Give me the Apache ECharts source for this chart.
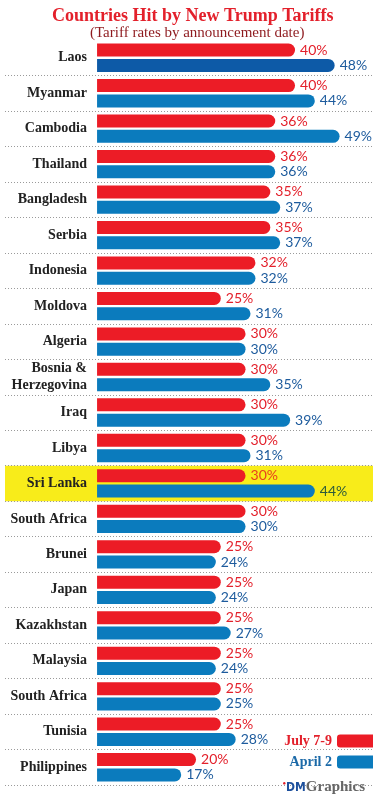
<!DOCTYPE html>
<html><head><meta charset="utf-8">
<script src="https://cdn.jsdelivr.net/npm/echarts@6/dist/echarts.min.js"></script>
<style>html,body{margin:0;padding:0;background:#fff}#c{width:373px;height:800px}</style>
</head><body><div id="c"></div>
<script>
const categories = ['Laos','Myanmar','Cambodia','Thailand','Bangladesh','Serbia','Indonesia','Moldova','Algeria','Bosnia &\nHerzegovina','Iraq','Libya','Sri Lanka','South Africa','Brunei','Japan','Kazakhstan','Malaysia','South Africa','Tunisia','Philippines'];
const july = [40,40,36,36,35,35,32,25,30,30,30,30,30,30,25,25,25,25,25,25,20];
const april = [48,44,49,36,37,37,32,31,30,35,39,31,44,30,24,24,27,24,25,28,17];
const highlight = 'Sri Lanka';
const seriesNames = ['July 7-9','April 2'];

const RED = '#ec1c26', BLUE = '#0b7bbd', DARKBLUE = '#0d5aa7';
const RED_LBL = '#e3202b', BLUE_LBL = '#1d5b9d';
const catFont = 'Liberation Serif';
const numFont = 'Lato';

const hiIdx = categories.indexOf(highlight);
const areaColors = categories.map((c,i)=> i===hiIdx ? '#f8ec1a' : 'rgba(0,0,0,0)');

const redData = july.map((v,i)=> i===hiIdx ? {value:v, label:{color:'#e8401e'}} : v);
const blueData = april.map((v,i)=> {
  if (i===hiIdx) return {value:v, label:{color:'#2b5a3c'}};
  if (i===0) return {value:v, itemStyle:{color:DARKBLUE}};
  return v;
});

const chart = echarts.init(document.getElementById('c'));
chart.setOption({
  animation:false,
  title:[{
    text:'Countries Hit by New Trump Tariffs',
    left:47, top:2,
    textStyle:{fontFamily:catFont, fontWeight:'bold', fontSize:18, color:'#e3202b'}
  },{
    text:'(Tariff rates by announcement date)',
    left:85, top:21,
    textStyle:{fontFamily:catFont, fontWeight:'normal', fontSize:15, color:'#8e1a1e'}
  },{
    text:'{d|●}{m|DM}{g|Graphics}',
    right:3, bottom:0,
    textStyle:{rich:{
      d:{color:'#e3202b', fontSize:6, verticalAlign:'top'},
      m:{color:'#1c4f9c', fontWeight:'bold', fontFamily:'DejaVu Sans Condensed', fontSize:12},
      g:{color:'#666', fontWeight:'bold', fontFamily:catFont, fontSize:15}
    }}
  }],
  legend:[{
    data:[{name:seriesNames[0], textStyle:{color:RED_LBL}}],
    right:-11, top:729, align:'right', icon:'roundRect', itemWidth:42, itemHeight:13,
    textStyle:{fontFamily:catFont, fontWeight:'bold', fontSize:14}
  },{
    data:[{name:seriesNames[1], textStyle:{color:'#1c6aa8'}}],
    right:-11, top:750, align:'right', icon:'roundRect', itemWidth:42, itemHeight:13,
    textStyle:{fontFamily:catFont, fontWeight:'bold', fontSize:14}
  }],
  grid:{left:5, right:0, top:40, bottom:15, containLabel:false},
  xAxis:{type:'value', min:-18.6, max:55.75, show:false},
  yAxis:{
    type:'category', inverse:true, data:categories,
    axisLine:{show:false}, axisTick:{show:false},
    axisLabel:{inside:true, align:'right', margin:82, fontFamily:catFont, fontWeight:'bold', fontSize:14, color:'#222', lineHeight:17, interval:0},
    splitLine:{show:true, showMinLine:false, lineStyle:{type:[1,2], color:'#9a9a9a', width:1}},
    splitArea:{show:true, areaStyle:{color:areaColors}}
  },
  series:[{
    name:seriesNames[0], type:'bar', data:redData, barWidth:13, barGap:'18%',
    itemStyle:{color:RED, borderRadius:[0,7,7,0]},
    label:{show:true, position:'right', distance:5, formatter:'{c}%', color:RED_LBL, fontFamily:numFont, fontSize:14}
  },{
    name:seriesNames[1], type:'bar', data:blueData, barWidth:13,
    itemStyle:{color:BLUE, borderRadius:[0,7,7,0]},
    label:{show:true, position:'right', distance:5, formatter:'{c}%', color:BLUE_LBL, fontFamily:numFont, fontSize:14}
  }]
});
</script></body></html>
